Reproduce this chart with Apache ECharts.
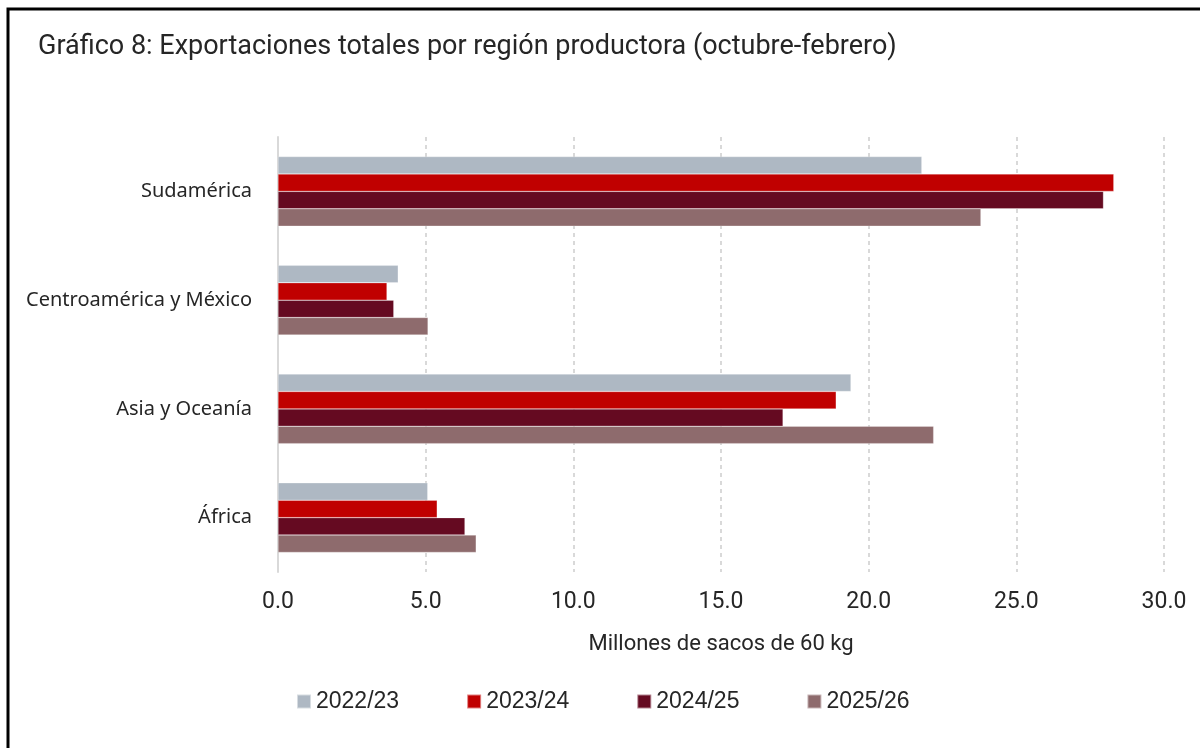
<!DOCTYPE html>
<html>
<head>
<meta charset="utf-8">
<script src="https://cdn.jsdelivr.net/npm/echarts@6/dist/echarts.min.js"></script>
<style>
  html, body { margin: 0; padding: 0; background: #fff; }
  #chart { width: 1200px; height: 748px; }
</style>
</head>
<body>
<div id="chart"></div>
<script>
var regiones = ['Sudamérica', 'Centroamérica y México', 'Asia y Oceanía', 'África'];
var campanas = ['2022/23', '2023/24', '2024/25', '2025/26'];
var v2022 = [21.8, 4.07, 19.4, 5.07];
var v2023 = [28.3, 3.69, 18.9, 5.39];
var v2024 = [27.95, 3.92, 17.1, 6.33];
var v2025 = [23.8, 5.08, 22.2, 6.71];
var colores = ['#aeb8c3', '#c00000', '#650a21', '#8e6b6d'];

var valores = [v2022, v2023, v2024, v2025];
var series = campanas.map(function (c, i) {
  return {
    name: c,
    type: 'bar',
    data: valores[i],
    barGap: '0%',
    barCategoryGap: '36%',
    itemStyle: { color: colores[i], borderColor: 'rgba(255,255,255,0.5)', borderWidth: 0.5 }
  };
});

var myChart = echarts.init(document.getElementById('chart'));
myChart.setOption({
  animation: false,
  backgroundColor: '#fff',
  graphic: [{
    type: 'rect',
    shape: { x: 8, y: 9, width: 1300, height: 900 },
    style: { fill: 'none', stroke: '#000', lineWidth: 3 },
    silent: true
  }],
  title: {
    text: 'Gráfico 8: Exportaciones totales por región productora (octubre-febrero)',
    left: 33,
    top: 29,
    textStyle: { fontFamily: 'Roboto', fontSize: 27, fontWeight: 'normal', color: '#262626' }
  },
  legend: {
    data: campanas,
    left: 291,
    top: 685,
    icon: 'rect',
    itemWidth: 14,
    itemHeight: 14,
    itemGap: 67,
    textStyle: { fontFamily: 'Liberation Sans', fontSize: 23, color: '#262626' }
  },
  grid: { left: 278, right: 36, top: 137, bottom: 176, containLabel: false },
  xAxis: {
    type: 'value',
    min: 0,
    max: 30,
    interval: 5,
    name: 'Millones de sacos de 60 kg',
    nameLocation: 'middle',
    nameGap: 61,
    nameTextStyle: { fontFamily: 'Roboto', fontSize: 22, color: '#262626' },
    axisLine: { show: false },
    axisTick: { show: false },
    axisLabel: {
      margin: 19,
      fontFamily: 'Roboto',
      fontSize: 23,
      color: '#262626',
      formatter: function (v) { return v.toFixed(1); }
    },
    splitLine: { show: true, lineStyle: { color: '#d9d9d9', width: 2, type: [4, 4] } }
  },
  yAxis: {
    type: 'category',
    data: regiones,
    inverse: true,
    axisLine: { show: true, lineStyle: { color: '#d9d9d9', width: 2 } },
    axisTick: { show: false },
    axisLabel: { margin: 26, fontFamily: 'Noto Sans', fontSize: 20, color: '#262626' }
  },
  series: series
});
</script>
</body>
</html>
